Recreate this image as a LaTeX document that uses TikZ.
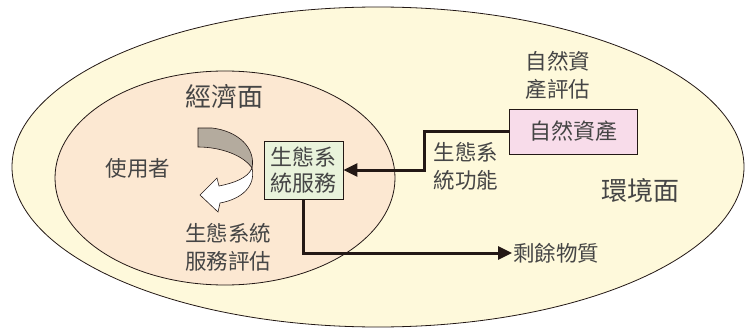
\documentclass[tikz,border=0pt]{standalone}
\usepackage{fontspec}
\setmainfont{Noto Sans CJK TC}
\usetikzlibrary{arrows.meta}
\definecolor{outerfill}{HTML}{FEF9DB}
\definecolor{innerfill}{HTML}{FCE8D2}
\definecolor{greenfill}{HTML}{E9F3DB}
\definecolor{pinkfill}{HTML}{F8DCEA}
\definecolor{grayarrow}{HTML}{B4AB9E}
\definecolor{ink}{HTML}{231815}
\definecolor{txt}{HTML}{454545}
\tikzset{
  lbl/.style={text=txt, inner sep=0pt, align=center, font=\fontsize{21.5}{28}\selectfont},
  biglbl/.style={text=txt, inner sep=0pt, font=\fontsize{26}{30}\selectfont},
  boxnode/.style={draw=ink, line width=0.9pt, text=txt, align=center, inner sep=0pt, font=\fontsize{22}{26}\selectfont},
  conn/.style={draw=ink, line width=3pt, -{Triangle[length=14pt,width=13pt]}},
  rim/.style={draw=ink, line width=0.8pt}
}
\begin{document}
\begin{tikzpicture}[x=1pt,y=-1pt]
\useasboundingbox (0,0) rectangle (745,329);
\clip (0,0) rectangle (745,329);
% outer and inner ellipses
\path[rim, fill=outerfill] (378,167) ellipse [x radius=366pt, y radius=160pt];
\path[rim, fill=innerfill] (225,178) ellipse [x radius=170pt, y radius=107pt];
% curved arrow (gray back part)
\path[draw=ink, line width=0.6pt, fill=grayarrow]
  (198,128) -- (212,128) .. controls (238,131) and (256,148) .. (252,168)
  .. controls (244,156) and (222,147) .. (198,147) -- cycle;
% curved arrow (white front part)
\path[draw=ink, line width=0.6pt, fill=white]
  (252,168) .. controls (256,186) and (242,199) .. (220,203)
  -- (218,212) -- (200,195) -- (217,178) -- (219,186)
  .. controls (234,183) and (248,178) .. (252,168) -- cycle;
% boxes
\node[boxnode, fill=greenfill, minimum width=79pt, minimum height=58pt] (green) at (303.5,170) {生態系\\統服務};
\node[boxnode, fill=pinkfill, minimum width=128pt, minimum height=45pt] (pink) at (573,131.5) {自然資產};
% labels
\node[biglbl] (econ) at (224,97) {經濟面};
\node[biglbl] (env) at (640,191) {環境面};
\node[lbl] (user) at (138,168) {使用者};
\node[lbl] (eseval) at (228,247) {生態系統\\服務評估};
\node[lbl] (naeval) at (558,75) {自然資\\產評估};
\node[lbl] (esfunc) at (466,166) {生態系\\統功能};
\node[lbl, anchor=west, inner sep=1pt] (resid) at (512,253) {剩餘物質};
% connectors
\draw[conn] (pink.west) -- ++(-84,0) |- (green.east);
\draw[conn] (green.south) |- (resid.west);
\end{tikzpicture}
\end{document}
